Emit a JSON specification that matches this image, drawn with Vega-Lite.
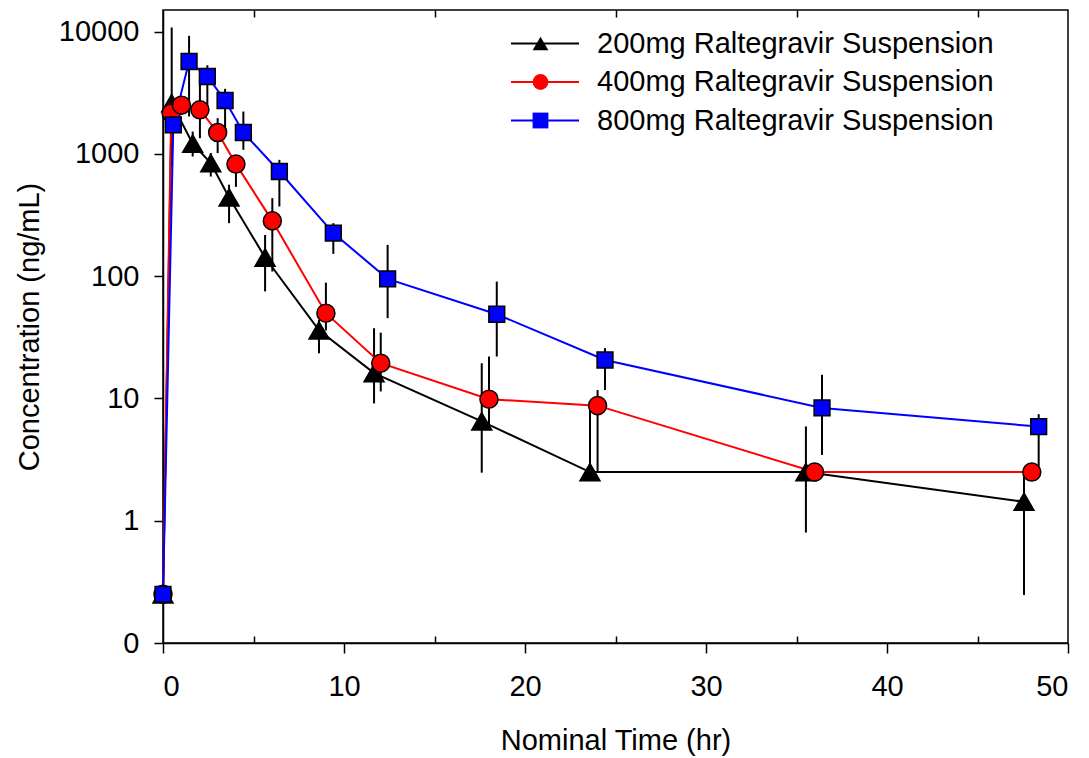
{
  "$schema": "https://vega.github.io/schema/vega-lite/v6.json",
  "width": 905,
  "height": 633,
  "autosize": {"type": "none"},
  "padding": {"left": 163, "top": 10, "right": 21, "bottom": 115},
  "background": "white",
  "config": {
    "font": "Liberation Sans",
    "view": {"stroke": "black", "strokeWidth": 1.5},
    "axis": {
      "domainColor": "black", "domainWidth": 1.5, "tickColor": "black", "tickWidth": 1.5,
      "labelColor": "black", "titleColor": "black", "labelFont": "Liberation Sans", "titleFont": "Liberation Sans",
      "labelFontSize": 29, "titleFontSize": 29, "titleFontWeight": "normal", "grid": false
    }
  },
  "data": {
    "values": [
      {"dose": "200mg Raltegravir Suspension", "t": 0, "c": 0.25},
      {"dose": "200mg Raltegravir Suspension", "t": 0.48, "c": 2600, "lo": 790, "hi": 10800},
      {"dose": "200mg Raltegravir Suspension", "t": 1.64, "c": 1210, "lo": 951, "hi": 1520},
      {"dose": "200mg Raltegravir Suspension", "t": 2.64, "c": 840, "lo": 652, "hi": 1014},
      {"dose": "200mg Raltegravir Suspension", "t": 3.65, "c": 440, "lo": 271, "hi": 560},
      {"dose": "200mg Raltegravir Suspension", "t": 5.64, "c": 142, "lo": 75, "hi": 217},
      {"dose": "200mg Raltegravir Suspension", "t": 8.62, "c": 36, "lo": 23.4, "hi": 43.9},
      {"dose": "200mg Raltegravir Suspension", "t": 11.66, "c": 16.1, "lo": 9.1, "hi": 37.5},
      {"dose": "200mg Raltegravir Suspension", "t": 17.61, "c": 6.5, "lo": 2.47, "hi": 19.4},
      {"dose": "200mg Raltegravir Suspension", "t": 23.59, "c": 2.5, "lo": 2.5, "hi": 8.6},
      {"dose": "200mg Raltegravir Suspension", "t": 35.52, "c": 2.5, "lo": 0.8, "hi": 5.9},
      {"dose": "200mg Raltegravir Suspension", "t": 47.57, "c": 1.43, "lo": 0.247, "hi": 2.29},
      {"dose": "400mg Raltegravir Suspension", "t": 0, "c": 0.25},
      {"dose": "400mg Raltegravir Suspension", "t": 0.45, "c": 2150},
      {"dose": "400mg Raltegravir Suspension", "t": 1.02, "c": 2500},
      {"dose": "400mg Raltegravir Suspension", "t": 2.04, "c": 2290, "lo": 1343, "hi": 3660},
      {"dose": "400mg Raltegravir Suspension", "t": 3.02, "c": 1494, "lo": 1014, "hi": 1958},
      {"dose": "400mg Raltegravir Suspension", "t": 4.03, "c": 824, "lo": 537, "hi": 950},
      {"dose": "400mg Raltegravir Suspension", "t": 6.04, "c": 283, "lo": 109, "hi": 434},
      {"dose": "400mg Raltegravir Suspension", "t": 9.0, "c": 49.8, "lo": 36, "hi": 88.5},
      {"dose": "400mg Raltegravir Suspension", "t": 12.03, "c": 19.4, "lo": 11.4, "hi": 34.5},
      {"dose": "400mg Raltegravir Suspension", "t": 18.01, "c": 9.85, "lo": 6.1, "hi": 22},
      {"dose": "400mg Raltegravir Suspension", "t": 24.01, "c": 8.73, "lo": 2.52, "hi": 11.7},
      {"dose": "400mg Raltegravir Suspension", "t": 36.0, "c": 2.5},
      {"dose": "400mg Raltegravir Suspension", "t": 48.0, "c": 2.5},
      {"dose": "800mg Raltegravir Suspension", "t": 0, "c": 0.25},
      {"dose": "800mg Raltegravir Suspension", "t": 0.57, "c": 1726},
      {"dose": "800mg Raltegravir Suspension", "t": 1.44, "c": 5690, "lo": 2020, "hi": 9230},
      {"dose": "800mg Raltegravir Suspension", "t": 2.45, "c": 4290, "lo": 2150, "hi": 5300},
      {"dose": "800mg Raltegravir Suspension", "t": 3.43, "c": 2730, "lo": 1515, "hi": 3400},
      {"dose": "800mg Raltegravir Suspension", "t": 4.44, "c": 1494, "lo": 1079, "hi": 2218},
      {"dose": "800mg Raltegravir Suspension", "t": 6.43, "c": 717, "lo": 371, "hi": 893},
      {"dose": "800mg Raltegravir Suspension", "t": 9.41, "c": 225, "lo": 152, "hi": 271},
      {"dose": "800mg Raltegravir Suspension", "t": 12.41, "c": 95, "lo": 45.3, "hi": 180},
      {"dose": "800mg Raltegravir Suspension", "t": 18.44, "c": 48.8, "lo": 22, "hi": 90.2},
      {"dose": "800mg Raltegravir Suspension", "t": 24.42, "c": 20.6, "lo": 11.7, "hi": 25.8},
      {"dose": "800mg Raltegravir Suspension", "t": 36.41, "c": 8.36, "lo": 3.45, "hi": 15.6},
      {"dose": "800mg Raltegravir Suspension", "t": 48.38, "c": 5.88, "lo": 2.77, "hi": 7.43}
    ]
  },
  "layer": [
    {
      "transform": [{"filter": "datum.lo != null"}],
      "mark": {"type": "rule", "color": "black", "strokeWidth": 2},
      "encoding": {
        "x": {
          "field": "t", "type": "quantitative",
          "scale": {"domain": [0, 50], "nice": false},
          "axis": {"orient": "top", "values": [5, 15, 25, 35, 45], "labels": false, "domain": false, "title": null, "tickSize": -7}
        },
        "y": {
          "field": "lo", "type": "quantitative",
          "scale": {"type": "log", "domain": [0.1, 15000], "nice": false},
          "axis": {
            "orient": "left",
            "values": [0.1, 1, 10, 100, 1000, 10000],
            "labelExpr": "datum.value < 0.5 ? '0' : format(datum.value, 'd')",
            "tickSize": 9,
            "labelPadding": 15,
            "title": "Concentration (ng/mL)",
            "titlePadding": 14
          }
        },
        "y2": {"field": "hi"}
      }
    },
    {
      "mark": {"type": "line", "strokeWidth": 2},
      "encoding": {
        "x": {
          "field": "t", "type": "quantitative",
          "axis": {
            "orient": "bottom",
            "values": [0, 5, 10, 15, 20, 25, 30, 35, 40, 45, 50],
            "labelExpr": "datum.value % 10 === 0 ? datum.label : ''",
            "tickSize": {"condition": {"test": "datum.value % 10 === 0", "value": 10}, "value": -7},
            "labelPadding": 19,
            "title": "Nominal Time (hr)",
            "titlePadding": 25
          }
        },
        "y": {"field": "c", "type": "quantitative"},
        "stroke": {
          "field": "dose", "type": "nominal",
          "scale": {"domain": ["200mg Raltegravir Suspension", "400mg Raltegravir Suspension", "800mg Raltegravir Suspension"], "range": ["black", "#ff0000", "#0000ff"]},
          "legend": {
            "orient": "none", "legendX": 367.5, "legendY": 19, "title": null,
            "symbolType": "M-6.8,0H6.8", "symbolStrokeWidth": 2,
            "labelFontSize": 29, "labelFont": "Liberation Sans", "labelColor": "black", "labelLimit": 0,
            "labelOffset": 37.5, "rowPadding": 8.5, "padding": 0
          }
        }
      }
    },
    {
      "mark": {"type": "point", "filled": true, "stroke": "black", "strokeWidth": 1.5, "opacity": 1},
      "encoding": {
        "x": {"field": "t", "type": "quantitative", "axis": null},
        "y": {"field": "c", "type": "quantitative"},
        "size": {
          "field": "dose", "type": "ordinal",
          "scale": {"domain": ["200mg Raltegravir Suspension", "400mg Raltegravir Suspension", "800mg Raltegravir Suspension"], "range": [400, 250, 235]},
          "legend": null
        },
        "fill": {
          "field": "dose", "type": "nominal",
          "scale": {"domain": ["200mg Raltegravir Suspension", "400mg Raltegravir Suspension", "800mg Raltegravir Suspension"], "range": ["black", "#ff0000", "#0000ff"]},
          "legend": {
            "orient": "none", "legendX": 363, "legendY": 19, "title": null,
            "symbolSize": 250, "symbolStrokeColor": "black", "symbolStrokeWidth": 1.5,
            "labelFontSize": 29, "labelFont": "Liberation Sans", "labelExpr": "''", "labelLimit": 0,
            "labelOffset": 44, "rowPadding": 8.5, "padding": 0
          }
        },
        "shape": {
          "field": "dose", "type": "nominal",
          "scale": {"domain": ["200mg Raltegravir Suspension", "400mg Raltegravir Suspension", "800mg Raltegravir Suspension"], "range": ["triangle-up", "circle", "square"]},
          "legend": {
            "orient": "none", "legendX": 363, "legendY": 19, "title": null,
            "symbolSize": 250, "symbolStrokeColor": "black", "symbolStrokeWidth": 1.5,
            "labelFontSize": 29, "labelFont": "Liberation Sans", "labelExpr": "''", "labelLimit": 0,
            "labelOffset": 44, "rowPadding": 8.5, "padding": 0
          }
        }
      }
    }
  ],
  "resolve": {"legend": {"stroke": "independent", "fill": "independent", "shape": "independent"}}
}
